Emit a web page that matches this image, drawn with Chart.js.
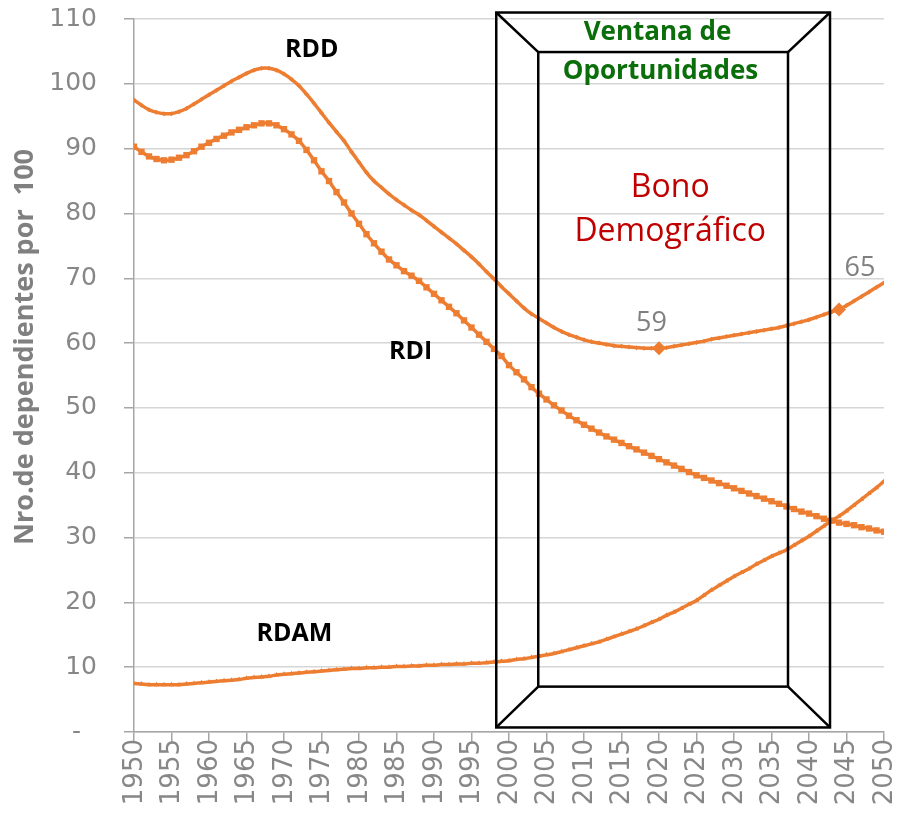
<!DOCTYPE html>
<html lang="es">
<head>
<meta charset="UTF-8">
<title>Relación de dependencia 1950-2050</title>
<script src="https://cdn.jsdelivr.net/npm/chart.js@4.4.0"></script>
<style>
  html, body { margin: 0; padding: 0; background: #fff; }
  .chart-box { width: 898px; height: 818px; position: relative; }
</style>
</head>
<body>
<div class="chart-box"><canvas id="dependencyChart"></canvas></div>
<script>
// años (eje X)
const years = [
  1950, 1951, 1952, 1953, 1954, 1955, 1956, 1957, 1958, 1959,
  1960, 1961, 1962, 1963, 1964, 1965, 1966, 1967, 1968, 1969,
  1970, 1971, 1972, 1973, 1974, 1975, 1976, 1977, 1978, 1979,
  1980, 1981, 1982, 1983, 1984, 1985, 1986, 1987, 1988, 1989,
  1990, 1991, 1992, 1993, 1994, 1995, 1996, 1997, 1998, 1999,
  2000, 2001, 2002, 2003, 2004, 2005, 2006, 2007, 2008, 2009,
  2010, 2011, 2012, 2013, 2014, 2015, 2016, 2017, 2018, 2019,
  2020, 2021, 2022, 2023, 2024, 2025, 2026, 2027, 2028, 2029,
  2030, 2031, 2032, 2033, 2034, 2035, 2036, 2037, 2038, 2039,
  2040, 2041, 2042, 2043, 2044, 2045, 2046, 2047, 2048, 2049,
  2050
];

// RDD: relación de dependencia demográfica total
const rdd = [
  97.5, 96.7, 96.0, 95.6, 95.4, 95.4, 95.7, 96.2, 96.9, 97.6,
  98.3, 99.0, 99.7, 100.4, 101.0, 101.6, 102.1, 102.4, 102.4, 102.1,
  101.5, 100.7, 99.7, 98.4, 97.0, 95.5, 94.0, 92.6, 91.2, 89.5,
  87.9, 86.3, 85.0, 84.0, 83.0, 82.1, 81.3, 80.5, 79.8, 78.9,
  78.0, 77.1, 76.2, 75.3, 74.3, 73.3, 72.2, 71.0, 69.9, 68.7,
  67.6, 66.5, 65.4, 64.5, 63.8, 63.1, 62.4, 61.8, 61.3, 60.9,
  60.5, 60.2, 60.0, 59.8, 59.6, 59.5, 59.4, 59.3, 59.2, 59.2,
  59.2, 59.3, 59.5, 59.7, 59.9, 60.1, 60.3, 60.6, 60.8, 61.0,
  61.2, 61.4, 61.6, 61.8, 62.0, 62.2, 62.4, 62.7, 63.0, 63.3,
  63.6, 64.0, 64.4, 64.8, 65.2, 65.8, 66.5, 67.2, 67.9, 68.6,
  69.3
];

// RDI: dependencia infantil
const rdi = [
  90.3, 89.5, 88.8, 88.4, 88.2, 88.3, 88.6, 89.0, 89.6, 90.3,
  90.9, 91.5, 92.0, 92.5, 92.9, 93.3, 93.6, 93.9, 93.9, 93.6,
  93.0, 92.2, 91.2, 89.8, 88.2, 86.5, 85.0, 83.3, 81.7, 80.0,
  78.4, 76.8, 75.4, 74.1, 72.9, 72.0, 71.1, 70.4, 69.6, 68.6,
  67.6, 66.6, 65.6, 64.6, 63.5, 62.4, 61.3, 60.2, 59.1, 58.0,
  56.6, 55.5, 54.4, 53.2, 52.2, 51.3, 50.4, 49.6, 48.8, 48.1,
  47.4, 46.8, 46.2, 45.6, 45.1, 44.6, 44.1, 43.6, 43.1, 42.6,
  42.1, 41.6, 41.1, 40.6, 40.1, 39.6, 39.2, 38.8, 38.4, 38.0,
  37.6, 37.2, 36.8, 36.4, 36.0, 35.6, 35.2, 34.8, 34.4, 34.0,
  33.7, 33.3, 32.9, 32.6, 32.3, 32.1, 31.9, 31.6, 31.4, 31.1,
  30.9
];

// RDAM: dependencia de adultos mayores
const rdam = [
  7.5, 7.4, 7.3, 7.3, 7.3, 7.3, 7.3, 7.4, 7.5, 7.6,
  7.7, 7.8, 7.9, 8.0, 8.1, 8.3, 8.4, 8.5, 8.6, 8.8,
  8.9, 9.0, 9.1, 9.2, 9.3, 9.4, 9.5, 9.6, 9.7, 9.8,
  9.8, 9.9, 9.9, 10.0, 10.0, 10.1, 10.1, 10.2, 10.2, 10.3,
  10.3, 10.4, 10.4, 10.5, 10.5, 10.6, 10.6, 10.7, 10.8, 10.9,
  11.0, 11.2, 11.3, 11.5, 11.7, 11.9, 12.1, 12.4, 12.7, 13.0,
  13.3, 13.6, 13.9, 14.3, 14.7, 15.1, 15.5, 15.9, 16.4, 16.9,
  17.4, 18.0, 18.5, 19.1, 19.7, 20.3, 21.1, 21.9, 22.6, 23.3,
  24.0, 24.6, 25.2, 25.9, 26.5, 27.1, 27.6, 28.1, 28.8, 29.5,
  30.2, 31.0, 31.8, 32.6, 33.3, 34.1, 35.0, 35.9, 36.8, 37.7,
  38.7
];

// puntos destacados de RDD (mínimo y fin de la ventana)
const markYears = [2020, 2044];
const markValues = [59.2, 65.2];

// etiquetas del eje Y (0 se muestra como guion)
const yTickLabels = ['-  ', '10', '20', '30', '40', '50', '60', '70', '80', '90', '100', '110'];

const ORANGE = '#ED7D31';
const GREY_TEXT = '#878787';
const AXIS_GREY = '#a6a6a6';

// ventana de oportunidades, en unidades de datos
const windowOuter = { from: 1998.3, to: 2042.8, low: 0.7, high: 111.0 };
const windowInner = { from: 2003.9, to: 2037.2, low: 7.0, high: 104.9 };

// textos sobre el gráfico (posición en unidades de datos, línea base)
const notes = [
  { text: 'RDD', x: 1973.7, y: 104.1, font: 'bold 25px "Open Sans"', color: '#000000' },
  { text: 'RDI', x: 1986.9, y: 57.6, font: 'bold 25px "Open Sans"', color: '#000000' },
  { text: 'RDAM', x: 1971.4, y: 14.0, font: 'bold 25px "Open Sans"', color: '#000000' },
  { text: 'Ventana de', x: 2019.8, y: 106.7, font: 'bold 26px "Open Sans"', color: '#0a6e0a' },
  { text: 'Oportunidades', x: 2020.2, y: 100.8, font: 'bold 26px "Open Sans"', color: '#0a6e0a' },
  { text: 'Bono', x: 2021.5, y: 82.6, font: '32px "Open Sans"', color: '#c00000' },
  { text: 'Demográfico', x: 2021.5, y: 75.8, font: '32px "Open Sans"', color: '#c00000' },
  { text: String(Math.round(markValues[0])), x: 2019.0, y: 61.9, font: '27px "Open Sans"', color: '#808080' },
  { text: String(Math.round(markValues[1])), x: 2046.8, y: 70.4, font: '27px "Open Sans"', color: '#808080' }
];

const toPoints = (vals) => years.map((yr, i) => ({ x: yr, y: vals[i] }));

const lineStyle = {
  borderColor: ORANGE,
  backgroundColor: ORANGE,
  borderWidth: 3.5,
  pointBorderWidth: 0,
  tension: 0.3
};

const overlayPlugin = {
  id: 'overlay',
  afterDraw(chart) {
    const { ctx, scales: { x, y }, chartArea } = chart;
    const px = (v) => x.getPixelForValue(v);
    const py = (v) => y.getPixelForValue(v);
    ctx.save();

    // caja en perspectiva
    ctx.strokeStyle = '#000000';
    ctx.lineWidth = 2.5;
    const o = { l: px(windowOuter.from), r: px(windowOuter.to), t: py(windowOuter.high), b: py(windowOuter.low) };
    const n = { l: px(windowInner.from), r: px(windowInner.to), t: py(windowInner.high), b: py(windowInner.low) };
    ctx.strokeRect(o.l, o.t, o.r - o.l, o.b - o.t);
    ctx.strokeRect(n.l, n.t, n.r - n.l, n.b - n.t);
    ctx.beginPath();
    ctx.moveTo(o.l, o.t); ctx.lineTo(n.l, n.t);
    ctx.moveTo(o.r, o.t); ctx.lineTo(n.r, n.t);
    ctx.moveTo(o.l, o.b); ctx.lineTo(n.l, n.b);
    ctx.moveTo(o.r, o.b); ctx.lineTo(n.r, n.b);
    ctx.stroke();

    // textos
    ctx.textAlign = 'center';
    ctx.textBaseline = 'alphabetic';
    notes.forEach((nt) => {
      ctx.font = nt.font;
      ctx.fillStyle = nt.color;
      ctx.fillText(nt.text, px(nt.x), py(nt.y));
    });

    // etiquetas del eje X, giradas (se leen de abajo hacia arriba)
    ctx.font = '26px "DejaVu Sans"';
    ctx.fillStyle = GREY_TEXT;
    ctx.textAlign = 'right';
    ctx.textBaseline = 'middle';
    x.ticks.forEach((t) => {
      ctx.save();
      ctx.translate(px(t.value), chartArea.bottom + 7);
      ctx.rotate(-Math.PI / 2);
      ctx.fillText(String(t.value), 0, 1);
      ctx.restore();
    });

    // título del eje Y
    ctx.save();
    ctx.translate(25, 347);
    ctx.rotate(-Math.PI / 2);
    ctx.font = 'bold 27px "Open Sans"';
    ctx.fillStyle = '#808080';
    ctx.textAlign = 'center';
    ctx.textBaseline = 'middle';
    ctx.fillText('Nro.de dependientes por  100', 0, 0);
    ctx.restore();

    ctx.restore();
  }
};

new Chart(document.getElementById('dependencyChart'), {
  type: 'line',
  data: {
    datasets: [
      { label: 'RDD', data: toPoints(rdd), ...lineStyle, pointStyle: 'rectRot', pointRadius: 2.5 },
      { label: 'RDI', data: toPoints(rdi), ...lineStyle, pointStyle: 'rect', pointRadius: 4.5 },
      { label: 'RDAM', data: toPoints(rdam), ...lineStyle, pointStyle: 'triangle', pointRadius: 3 },
      {
        label: 'hitos',
        data: markYears.map((yr, i) => ({ x: yr, y: markValues[i] })),
        showLine: false,
        pointStyle: 'rectRot',
        pointRadius: 7,
        pointBorderWidth: 0,
        backgroundColor: ORANGE,
        borderColor: ORANGE
      }
    ]
  },
  options: {
    responsive: true,
    maintainAspectRatio: false,
    animation: false,
    layout: { padding: { top: 19, right: 14, left: 0, bottom: 0 } },
    plugins: {
      legend: { display: false },
      tooltip: { enabled: false }
    },
    scales: {
      x: {
        type: 'linear',
        min: 1950,
        max: 2050,
        ticks: { stepSize: 5, display: false },
        grid: { drawOnChartArea: false, drawTicks: true, tickLength: 10, tickColor: AXIS_GREY, lineWidth: 1.5 },
        border: { color: AXIS_GREY, width: 1.5 },
        afterFit: (scale) => { scale.height = 86; }
      },
      y: {
        min: 0,
        max: 110,
        ticks: {
          stepSize: 10,
          padding: 27,
          color: GREY_TEXT,
          font: { family: 'DejaVu Sans', size: 25 },
          callback: (v) => yTickLabels[Math.round(v / 10)]
        },
        grid: { color: '#d6d6d6', lineWidth: 1.5, tickLength: 10, tickColor: AXIS_GREY },
        border: { color: AXIS_GREY, width: 1.5 },
        afterFit: (scale) => {
          scale.width = 134;
          // la separación de las etiquetas no debe empujar el área del gráfico
          scale.paddingTop = 0;
          scale.paddingBottom = 0;
        }
      }
    }
  },
  plugins: [overlayPlugin]
});
</script>
</body>
</html>
